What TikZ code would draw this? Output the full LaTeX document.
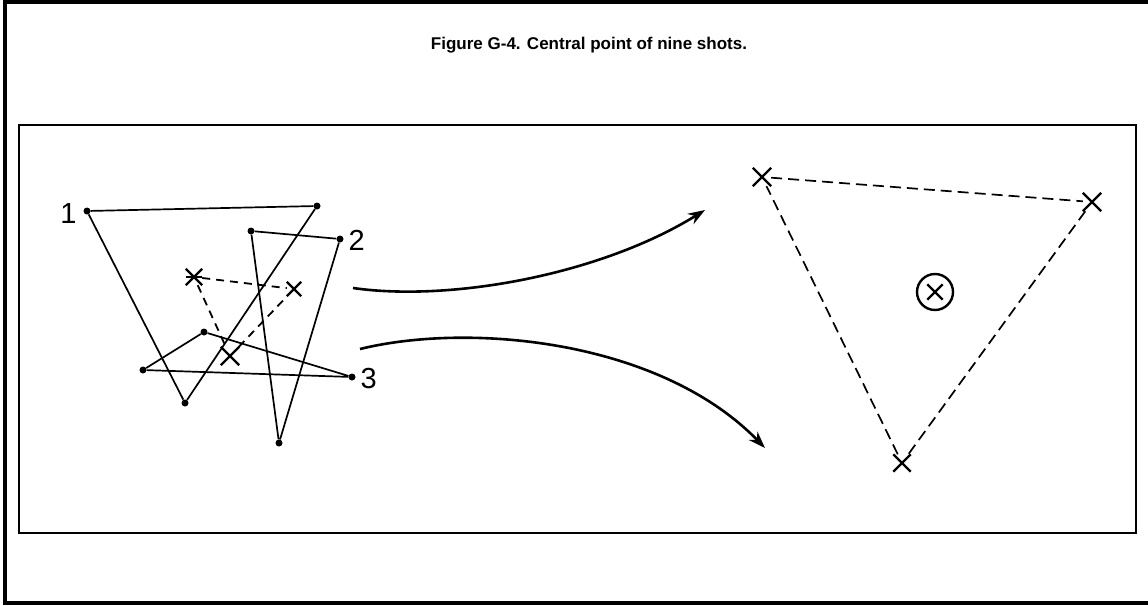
\documentclass[tikz,border=0pt]{standalone}
\usepackage{fontspec}
\setmainfont{Liberation Sans}
\usetikzlibrary{arrows.meta,shapes.misc}

\tikzset{
  shot/.style={circle,fill,inner sep=0pt,minimum size=7pt},
  hit/.style={cross out,draw,line width=2.4pt,inner sep=0pt,minimum size=#1},
  hit/.default=12pt,
  grouping/.style={line width=1.7pt},
  linkdash/.style={dashed,dash pattern=on 8pt off 6pt,line width=1.8pt},
  bigarrow/.style={line width=2.6pt,-{Stealth[length=17pt,width=12pt]}}
}

\begin{document}
\begin{tikzpicture}[x=1pt,y=-1pt]

\useasboundingbox (0,0) rectangle (1148,605);

%=================================================
% FRAMES AND TITLE
%=================================================

\draw[line width=3.2pt]
(5,2) rectangle (1152,603);

\draw[line width=2.6pt]
(19,125) rectangle (1136,533);

\node[font=\bfseries\fontsize{17}{19}\selectfont] (title)
at (589,45)
{Figure G-4. Central point of nine shots.};

%=================================================
% LEFT: NINE SHOTS
%=================================================

% shot holes

\foreach \n/\px/\py in {a1/87/211,a2/317/206,a3/185/403,
                        b1/251/231,b2/340/239,b3/279/443,
                        c1/143/370,c2/204/332,c3/352/377}
{
\node[shot] (\n) at (\px,\py) {};
}

% groups of three

\draw[grouping] (a1) -- (a2) -- (a3) -- (a1);
\draw[grouping] (b1) -- (b2) -- (b3) -- (b1);
\draw[grouping] (c1) -- (c2) -- (c3) -- (c1);

\node[font=\fontsize{29}{31}\selectfont,anchor=east] (lab1)
at (80,214) {1};
\node[font=\fontsize{29}{31}\selectfont,anchor=west] (lab2)
at (345,240) {2};
\node[font=\fontsize{29}{31}\selectfont,anchor=west] (lab3)
at (357,379) {3};

% centres of the groups

\node[hit=14pt] (ca) at (194,277) {};
\draw[line width=2.4pt] (186,277) -- (202,277);
\node[hit=12pt] (cb) at (294,289) {};
\node[hit=16pt] (cc) at (230,356) {};

\draw[linkdash] (ca) -- (cb);
\draw[linkdash] (ca) -- (cc);
\draw[linkdash] (cc) -- (cb);

%=================================================
% ARROWS
%=================================================

\coordinate (up0) at (353,288);
\coordinate (up1) at (705,210);
\coordinate (lo0) at (360,349);
\coordinate (lo1) at (765,448);

\draw[bigarrow]
(up0) .. controls (450,302) and (600,275) .. (up1);

\draw[bigarrow]
(lo0) .. controls (470,322) and (660,340) .. (lo1);

%=================================================
% RIGHT: CENTRAL POINT
%=================================================

\node[hit=16pt] (x1) at (762,177) {};
\node[hit=16pt] (x2) at (1092,202) {};
\node[hit=15pt] (x3) at (902,463) {};

\draw[dashed,dash pattern=on 11pt off 6pt,line width=1.7pt]
(x1) -- (x2) -- (x3) -- (x1);

\node[circle,draw,line width=2.4pt,minimum size=36pt] (centre)
at (935,292) {};
\node[hit=13pt] (cx) at (935,292) {};

\end{tikzpicture}
\end{document}
